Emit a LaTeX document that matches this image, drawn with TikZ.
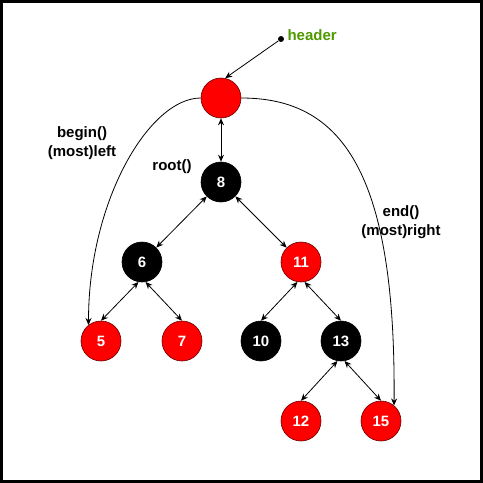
\documentclass[tikz,border=0pt]{standalone}
\usepackage{fontspec}
\setmainfont{Liberation Sans}
\usepackage{xcolor}
\usetikzlibrary{arrows.meta, positioning}
\definecolor{headergreen}{RGB}{77,153,0}
\newcommand{\tipsz}{Stealth[length=7pt,width=6pt]}

\begin{document}
\begin{tikzpicture}[x=1pt,y=-1pt,
    rbnode/.style={circle,minimum size=40pt,inner sep=0pt,line width=0.6pt,font=\fontsize{15}{18}\selectfont\bfseries,text=white},
    rednode/.style={rbnode,fill=red,draw=black!60!red},
    blknode/.style={rbnode,fill=black,draw=black},
    link/.style={{\tipsz}-{\tipsz},line width=0.8pt},
    lbl/.style={font=\fontsize{15}{19}\selectfont\bfseries,align=center}]
\useasboundingbox (0,0) rectangle (483,483);
\draw[line width=3pt] (1.5,1.5) rectangle (481.5,481.5);
% === header ===
\node[circle,fill=black,inner sep=0pt,minimum size=6pt] (hdot) at (281,39) {};
\node[lbl,text=headergreen,anchor=west] (hlabel) at (284,35) {header};
\node[rednode] (top) at (221,98) {};
\draw[-{\tipsz},line width=0.8pt] (hdot) -- (top.78);
% === tree ===
\node[blknode] (n8) at (221,182) {8};
\node[blknode] (n6) at (142,262) {6};
\node[rednode] (n11) at (301,262) {11};
\node[rednode] (n5) at (101,341) {5};
\node[rednode] (n7) at (182,341) {7};
\node[blknode] (n10) at (261,341) {10};
\node[blknode] (n13) at (341,341) {13};
\node[rednode] (n12) at (301,421) {12};
\node[rednode] (n15) at (381,421) {15};
\draw[link] (top) -- (n8);
\draw[link] (n8) -- (n6);
\draw[link] (n8) -- (n11);
\draw[link] (n6.260) -- (n5.north);
\draw[link] (n6.280) -- (n7.north);
\draw[link] (n11.260) -- (n10.north);
\draw[link] (n11.280) -- (n13.north);
\draw[link] (n13.260) -- (n12.north);
\draw[link] (n13.280) -- (n15.north);
% === begin / end ===
\draw[-{\tipsz},line width=0.8pt] (top.west) .. controls +(-51,0) and +(0,-125) .. (n5.128);
\draw[-{\tipsz},line width=0.8pt] (top.east) .. controls +(99,0) and +(2,-236) .. (n15.50);
\node[lbl] (lroot) at (172,167) {root()};
\node[lbl] (lbegin) at (82,143) {begin()\\(most)left};
\node[lbl] (lend) at (401,222) {end()\\(most)right};
\end{tikzpicture}
\end{document}
